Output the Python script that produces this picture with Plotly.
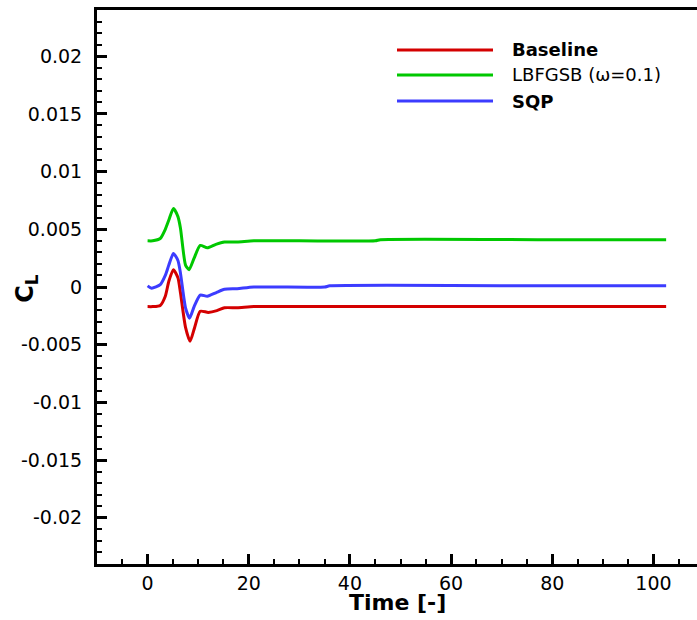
import plotly.graph_objects as go

# ---- data ----
t_baseline = [0, 1, 2.5, 3.5, 4.2, 5.1, 6, 6.5, 7.5, 8.4, 9.3, 10.4, 12, 13.7, 15.2, 17.7, 21, 30, 50, 80, 102.5]
cl_baseline = [-0.0017, -0.0017, -0.0016, -0.0008, 0.0005, 0.0015, 0.0008, -0.0005, -0.0035, -0.0047,
               -0.0035, -0.0021, -0.0022, -0.00205, -0.0018, -0.0018, -0.0017, -0.0017, -0.0017, -0.0017, -0.0017]

t_lbfgsb = [0, 1, 2.5, 3.5, 4.2, 5.1, 6, 6.5, 7.5, 8.2, 9.2, 10.4, 11.8, 13.5, 15.2, 17.7, 21, 30, 45, 46, 80, 102.5]
cl_lbfgsb = [0.0040, 0.0040, 0.0042, 0.0050, 0.0058, 0.0068, 0.0061, 0.0051, 0.0019, 0.0015, 0.0025,
             0.0036, 0.0034, 0.0037, 0.0039, 0.0039, 0.0040, 0.0040, 0.0040, 0.0041, 0.0041, 0.0041]

t_sqp = [0, 0.8, 2.5, 3.5, 4.2, 5.1, 6, 6.5, 7.5, 8.3, 9.2, 10.4, 11.8, 13.5, 15.2, 17.7, 21, 35, 36, 80, 102.5]
cl_sqp = [0.0001, -0.0001, 0.0002, 0.0010, 0.0019, 0.0029, 0.0023, 0.0012, -0.0018, -0.0027, -0.0017,
          -0.0007, -0.0008, -0.0005, -0.0002, -0.00015, 0.0, 0.0, 0.0001, 0.0001, 0.0001]

series_names = ["Baseline", "LBFGSB (\u03c9=0.1)", "SQP"]
series_colors = ["#d40000", "#00c800", "#3c3cff"]

x_tickvals = [0, 20, 40, 60, 80, 100]
x_ticktext = ["0", "20", "40", "60", "80", "100"]
y_tickvals = [0.02, 0.015, 0.01, 0.005, 0, -0.005, -0.01, -0.015, -0.02]
y_ticktext = ["0.02", "0.015", "0.01", "0.005", "0", "-0.005", "-0.01", "-0.015", "-0.02"]

x_title = "Time [-]"
y_title = "C<sub>L</sub>"

FONT = "DejaVu Sans"

fig = go.Figure()
for t, cl, name, col in zip([t_baseline, t_lbfgsb, t_sqp],
                            [cl_baseline, cl_lbfgsb, cl_sqp],
                            series_names, series_colors):
    fig.add_trace(go.Scatter(x=t, y=cl, mode="lines", name=name,
                             line=dict(color=col, width=3, shape="spline", smoothing=0.6),
                             showlegend=False))

# legend drawn manually (long line samples as in reference)
leg_y = [0.9278, 0.8827, 0.8357]
leg_bold = [True, False, True]
for name, col, yy, b in zip(series_names, series_colors, leg_y, leg_bold):
    fig.add_shape(type="line", xref="paper", yref="paper", x0=0.5, x1=0.66, y0=yy, y1=yy,
                  line=dict(color=col, width=3))
    fig.add_annotation(xref="paper", yref="paper", x=0.688, y=yy, xanchor="left", yanchor="middle",
                       text=(f"<b>{name}</b>" if b else name), showarrow=False,
                       font=dict(family=FONT, size=18, color="black"))

# axis titles placed as annotations
fig.add_annotation(xref="paper", yref="paper", x=0.5, y=-0.0686, xanchor="center", yanchor="middle",
                   text=f"<b>{x_title}</b>", showarrow=False,
                   font=dict(family=FONT, size=22, color="black"))
fig.add_annotation(xref="paper", yref="paper", x=-0.118, y=0.497, xanchor="center", yanchor="middle",
                   text=f"<b>{y_title}</b>", showarrow=False, textangle=-90,
                   font=dict(family=FONT, size=24, color="black"))

axis_common = dict(showgrid=False, zeroline=False, showline=True, linecolor="black", linewidth=3,
                   ticks="inside", ticklen=10, tickwidth=3, tickcolor="black", automargin=False,
                   tickfont=dict(family=FONT, size=19, color="black"))

fig.update_xaxes(range=[-10, 108.6], tickvals=x_tickvals, ticktext=x_ticktext,
                 minor=dict(ticks="inside", ticklen=5, tickwidth=1.5, tickcolor="black", dtick=5, tick0=0),
                 mirror=True, **axis_common)
fig.update_yaxes(range=[-0.024, 0.024], tickvals=y_tickvals, ticktext=y_ticktext,
                 minor=dict(ticks="inside", ticklen=5, tickwidth=1.5, tickcolor="black", dtick=0.001, tick0=0),
                 ticklabelstandoff=8, **axis_common)

fig.update_layout(width=697, height=620, margin=dict(l=97, r=0, t=10, b=56),
                  plot_bgcolor="white", paper_bgcolor="white")

fig.write_html("out.html")
